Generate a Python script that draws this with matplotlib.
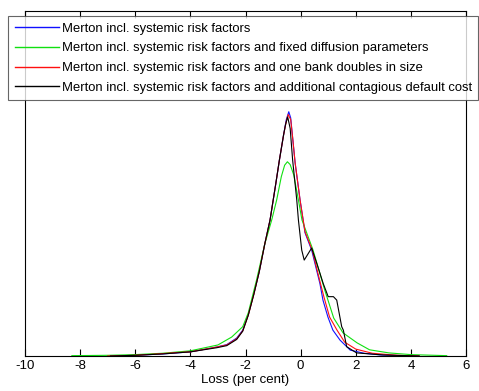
import numpy as np
import matplotlib
matplotlib.use("Agg")
import matplotlib.pyplot as plt

plt.rcParams['font.family'] = ['Liberation Sans', 'DejaVu Sans']
plt.rcParams['axes.unicode_minus'] = False

# loss grid (per cent) and density for each model variant
x_base = [-7.0, -6.0, -5.0, -4.5, -4.0, -3.04, -2.68, -2.32, -2.1, -1.9, -1.7, -1.5, -1.3, -1.11,
          -0.9, -0.77, -0.62, -0.52, -0.43, -0.36, -0.28, -0.2, -0.02, 0.16, 0.4, 0.7, 0.81, 0.99,
          1.17, 1.43, 1.8, 2.3, 2.9, 3.6, 4.3]
y_base = [0.0, 0.002, 0.006, 0.009, 0.012, 0.026, 0.033, 0.052, 0.075, 0.12, 0.18, 0.245, 0.325, 0.394,
          0.5, 0.568, 0.64, 0.685, 0.708, 0.69, 0.625, 0.56, 0.452, 0.357, 0.307, 0.21, 0.162, 0.113,
          0.075, 0.046, 0.017, 0.008, 0.003, 0.001, 0.0]

x_fixed = [-8.3, -7.0, -6.0, -5.0, -4.0, -3.0, -2.5, -2.1, -1.9, -1.6, -1.3, -1.05, -0.87, -0.7,
           -0.58, -0.48, -0.38, -0.25, -0.08, 0.05, 0.45, 0.88, 1.2, 1.54, 2.05, 2.5, 3.2, 4.0, 5.3]
y_fixed = [0.001, 0.002, 0.004, 0.008, 0.015, 0.032, 0.055, 0.085, 0.125, 0.22, 0.325, 0.394, 0.452,
           0.52, 0.553, 0.563, 0.555, 0.525, 0.452, 0.394, 0.307, 0.19, 0.11, 0.067, 0.038, 0.018,
           0.009, 0.004, 0.001]

x_double = [-7.0, -6.0, -5.0, -4.5, -4.0, -3.04, -2.68, -2.32, -2.1, -1.9, -1.7, -1.5, -1.3, -1.11,
            -0.9, -0.77, -0.62, -0.52, -0.45, -0.36, -0.28, -0.2, -0.02, 0.16, 0.42, 0.72, 0.85,
            1.05, 1.32, 1.6, 2.0, 2.6, 3.5, 4.3]
y_double = [0.0, 0.002, 0.007, 0.01, 0.012, 0.026, 0.032, 0.05, 0.073, 0.118, 0.178, 0.245, 0.325,
            0.394, 0.5, 0.568, 0.64, 0.68, 0.70, 0.685, 0.625, 0.56, 0.452, 0.36, 0.307, 0.21, 0.17,
            0.113, 0.075, 0.04, 0.02, 0.008, 0.002, 0.0]

x_contag = [-6.9, -6.0, -5.0, -4.0, -3.04, -2.68, -2.32, -2.1, -1.9, -1.7, -1.5, -1.3, -1.11, -0.9,
            -0.77, -0.62, -0.55, -0.47, -0.38, -0.29, -0.14, -0.08, 0.04, 0.13, 0.4, 0.58, 0.82,
            1.0, 1.19, 1.31, 1.49, 1.55, 1.67, 2.03, 3.0, 4.3]
y_contag = [0.0, 0.002, 0.006, 0.012, 0.024, 0.03, 0.048, 0.072, 0.118, 0.178, 0.245, 0.325, 0.394,
            0.5, 0.568, 0.64, 0.67, 0.693, 0.66, 0.568, 0.452, 0.394, 0.307, 0.278, 0.313, 0.27,
            0.21, 0.172, 0.172, 0.162, 0.085, 0.075, 0.027, 0.009, 0.003, 0.0]

labels = [
    "Merton incl. systemic risk factors",
    "Merton incl. systemic risk factors and fixed diffusion parameters",
    "Merton incl. systemic risk factors and one bank doubles in size",
    "Merton incl. systemic risk factors and additional contagious default cost",
]

fig = plt.figure(figsize=(4.79, 3.91), dpi=100)
ax = fig.add_axes([25 / 479, 35 / 391, 441 / 479, 345 / 391])

lw = 0.8
ax.plot(x_base, y_base, color='#1010ff', lw=lw, label=labels[0])
ax.plot(x_fixed, y_fixed, color='#10e010', lw=lw, label=labels[1])
ax.plot(x_double, y_double, color='#ff1010', lw=lw, label=labels[2])
ax.plot(x_contag, y_contag, color='#000000', lw=lw, label=labels[3])

ax.set_xlim(-10, 6)
ax.set_ylim(0, 1)
ax.set_xticks(np.arange(-10, 7, 2))
ax.set_yticks([])
ax.tick_params(axis='x', direction='in', top=True, length=5, width=0.8,
               labelsize=9.5, pad=3)
for s in ax.spines.values():
    s.set_linewidth(0.8)
ax.set_xlabel("Loss (per cent)", fontsize=9.5, labelpad=1)

# legend box runs past the right edge of the figure
leg = ax.legend(loc='upper left', bbox_to_anchor=(8 / 479, 1 - 16 / 391),
                bbox_transform=fig.transFigure, fontsize=9.4, frameon=True,
                fancybox=False, handlelength=3.4, handletextpad=0.2,
                borderpad=0.5, labelspacing=0.58, borderaxespad=0)
leg.get_frame().set_edgecolor('#404040')
leg.get_frame().set_linewidth(0.8)
for h in leg.get_lines():
    h.set_linewidth(1.0)

fig.savefig("out.png", dpi=100)
